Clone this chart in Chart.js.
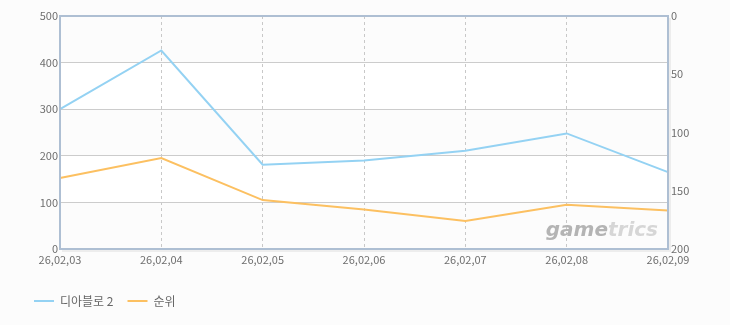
<!DOCTYPE html>
<html lang="ko">
<head>
  <meta charset="UTF-8">
  <title>디아블로 2 순위</title>
  <script src="https://cdn.jsdelivr.net/npm/chart.js"></script>
  <style>
    html, body { margin: 0; padding: 0; background: #fcfcfc; }
    #wrap { width: 730px; height: 325px; }
  </style>
</head>
<body>
  <div id="wrap"><canvas id="myChart"></canvas></div>

  <script>
    const labels = ['26,02,03', '26,02,04', '26,02,05', '26,02,06', '26,02,07', '26,02,08', '26,02,09'];
    const viewers = [300, 426, 181, 190, 211, 248, 165];   // 디아블로 2 (left axis)
    const ranks = [139, 122, 158, 166, 176, 162, 167];     // 순위 (right axis, reversed)
    const leftTicks = [0, 100, 200, 300, 400, 500];
    const rightTicks = [0, 50, 100, 150, 200];

    const tickFont = { family: "'Noto Sans CJK KR', 'DejaVu Sans', sans-serif", size: 11 };
    const tickColor = '#6e6e6e';

    // alternating background bands + frame + watermark
    const decor = {
      id: 'decor',
      beforeDraw(chart) {
        const { ctx, chartArea: a, scales: { y } } = chart;
        ctx.save();
        ctx.fillStyle = '#ffffff';
        for (let i = 0; i < leftTicks.length - 1; i++) {
          if (i % 2 === 1) {
            const top = y.getPixelForValue(leftTicks[i + 1]);
            const bot = y.getPixelForValue(leftTicks[i]);
            ctx.fillRect(a.left, top, a.right - a.left, bot - top);
          }
        }
        ctx.restore();
      },
      afterDraw(chart) {
        const { ctx, chartArea: a } = chart;
        ctx.save();
        // watermark
        ctx.font = "italic bold 20px 'DejaVu Sans', sans-serif";
        ctx.textBaseline = 'alphabetic';
        const w1 = ctx.measureText('game').width;
        const w2 = ctx.measureText('trics').width;
        const x0 = a.right - 10 - w1 - w2, y0 = a.bottom - 13;
        ctx.fillStyle = '#b4b4b4';
        ctx.fillText('game', x0, y0);
        ctx.fillStyle = '#d6d6d6';
        ctx.fillText('trics', x0 + w1, y0);
        // frame
        ctx.strokeStyle = 'rgba(0,0,0,0.06)';
        ctx.lineWidth = 2;
        ctx.beginPath();
        ctx.moveTo(a.left + 2, a.bottom + 2);
        ctx.lineTo(a.right + 2, a.bottom + 2);
        ctx.lineTo(a.right + 2, a.top + 2);
        ctx.stroke();
        ctx.strokeStyle = '#aebfd3';
        ctx.lineWidth = 2;
        ctx.strokeRect(a.left, a.top, a.right - a.left, a.bottom - a.top);
        ctx.restore();
      }
    };

    new Chart(document.getElementById('myChart'), {
      type: 'line',
      data: {
        labels: labels,
        datasets: [
          {
            label: '디아블로 2',
            data: viewers,
            yAxisID: 'y',
            borderColor: '#94d2f3',
            backgroundColor: '#94d2f3',
            borderWidth: 2,
            pointRadius: 0,
            tension: 0
          },
          {
            label: '순위',
            data: ranks,
            yAxisID: 'y1',
            borderColor: '#fcc061',
            backgroundColor: '#fcc061',
            borderWidth: 2,
            pointRadius: 0,
            tension: 0
          }
        ]
      },
      options: {
        responsive: true,
        maintainAspectRatio: false,
        animation: false,
        layout: { padding: { left: 20, right: 10, top: 16, bottom: 8 } },
        plugins: {
          tooltip: { enabled: false },
          legend: {
            position: 'bottom',
            align: 'start',
            labels: {
              usePointStyle: true,
              pointStyle: 'line',
              pointStyleWidth: 20,
              boxWidth: 20,
              padding: 14,
              color: '#666',
              font: { family: "'Noto Sans CJK KR', sans-serif", size: 12 }
            }
          }
        },
        scales: {
          x: {
            offset: false,
            grid: { color: '#c8c8c8', drawTicks: false, lineWidth: 1 },
            border: { display: false, dash: [3, 3] },
            ticks: { color: tickColor, font: tickFont, padding: 4, maxRotation: 0, autoSkip: false },
            afterFit(s) { s.height = 32; }
          },
          y: {
            position: 'left',
            min: 0,
            max: 500,
            afterBuildTicks(s) { s.ticks = leftTicks.map(v => ({ value: v })); },
            grid: { color: '#cccccc', drawTicks: false },
            border: { display: false },
            ticks: { color: tickColor, font: tickFont, padding: 2 },
            afterFit(s) { s.width = 40; }
          },
          y1: {
            position: 'right',
            reverse: true,
            min: 0,
            max: 200,
            afterBuildTicks(s) { s.ticks = rightTicks.map(v => ({ value: v })); },
            grid: { display: false, drawTicks: false },
            border: { display: false },
            ticks: { color: tickColor, font: tickFont, padding: 3 },
            afterFit(s) { s.width = 52; }
          }
        }
      },
      plugins: [decor]
    });
  </script>
</body>
</html>
